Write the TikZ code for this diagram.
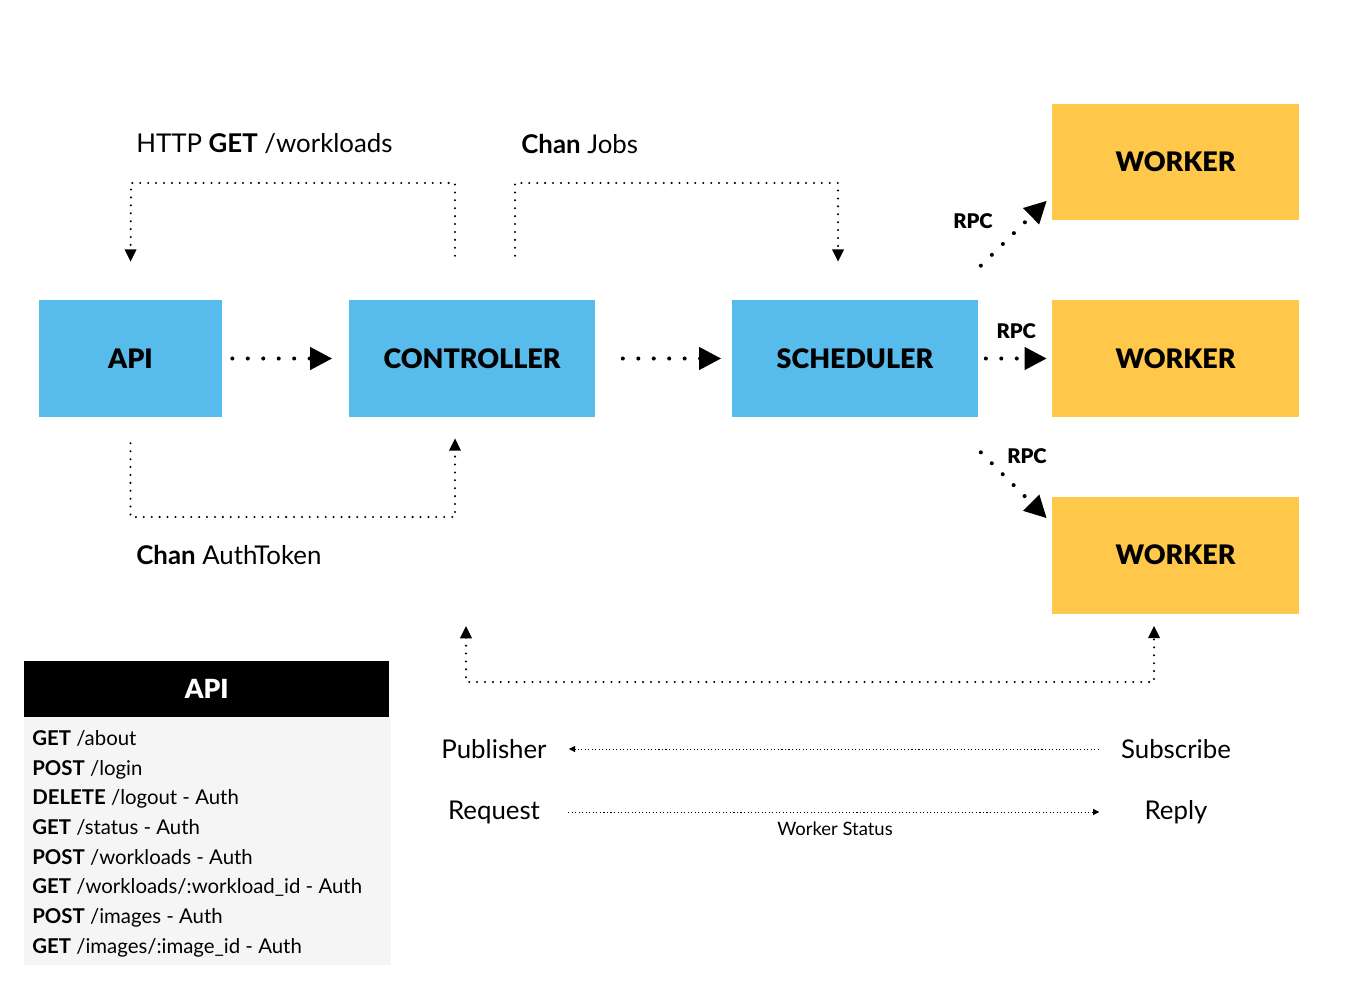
\documentclass[tikz,border=0pt]{standalone}
\usepackage{fontspec}
\setmainfont{Lato}
\newfontfamily\heavyfont{Lato Black}
\usepackage{xcolor}
\usetikzlibrary{arrows.meta,positioning,calc}

\definecolor{svcblue}{HTML}{57BCEC}
\definecolor{wrkyellow}{HTML}{FFC84B}
\definecolor{tblgray}{HTML}{F5F5F5}

\tikzset{
  service/.style={fill=svcblue, minimum width=4.94cm, minimum height=2.34cm, inner sep=0pt, font=\fontsize{15.3}{18}\heavyfont},
  worker/.style={service, fill=wrkyellow},
  bigdots/.style={line width=2.3pt, line cap=round, dash pattern=on 0pt off 8.8pt, -{Triangle[length=12.5pt,width=12.5pt]}},
  loopdots/.style={line width=1.3pt, line cap=round, dash pattern=on 0pt off 4.5pt, -{Triangle[length=7pt,width=6.5pt]}},
  thindots/.style={line width=0.5pt, dash pattern=on 0.6pt off 1.4pt, -{Triangle[length=3.5pt,width=3.5pt]}},
  biglabel/.style={font=\fontsize{14.7}{18}\selectfont, inner sep=0pt},
  rpc/.style={font=\fontsize{11.5}{14}\heavyfont, inner sep=0pt}
}

\begin{document}
\begin{tikzpicture}[x=0.02cm, y=-0.02cm]
\useasboundingbox (0,0) rectangle (1364,1004);

% Services
\node[service, minimum width=3.66cm] (api) at (130.5,358.5) {API};
\node[service] (ctrl) at (472,358.5) {CONTROLLER};
\node[service] (sched) at (855,358.5) {SCHEDULER};

% Workers
\node[worker] (w1) at (1175.5,162) {WORKER};
\node[worker] (w2) at (1175.5,358.5) {WORKER};
\node[worker] (w3) at (1175.5,555) {WORKER};

% Main flow
\draw[bigdots] ([xshift=0.2cm]api.east) -- ([xshift=-0.32cm]ctrl.west);
\draw[bigdots] ([xshift=0.54cm]ctrl.east) -- ([xshift=-0.2cm]sched.west);
\draw[bigdots] ([xshift=0.14cm]sched.east) -- ([xshift=-0.1cm]w2.west) node[rpc, pos=0.5, above=0.35cm] (rpc2) {RPC};
\draw[bigdots] ([xshift=0.04cm,yshift=0.68cm]sched.north east) -- ([xshift=-0.1cm,yshift=0.4cm]w1.south west);
\draw[bigdots] ([xshift=0.04cm,yshift=-0.7cm]sched.south east) -- ([xshift=-0.1cm,yshift=-0.44cm]w3.north west);
\node[rpc] (rpc1) at (973,221) {RPC};
\node[rpc] (rpc3) at (1027,456) {RPC};

% Loops
\draw[loopdots] ([xshift=-0.34cm,yshift=0.88cm]ctrl.north) |- (131,183) -- ([yshift=0.76cm]api.north);
\draw[loopdots] ([xshift=0.86cm,yshift=0.88cm]ctrl.north) |- (838,183) -- ([xshift=-0.34cm,yshift=0.76cm]sched.north);
\draw[loopdots] ([yshift=-0.52cm]api.south) |- (455,517) -- ([xshift=-0.34cm,yshift=-0.42cm]ctrl.south);
\node[biglabel, anchor=west] (httplbl) at (136,144) {HTTP \textbf{GET} /workloads};
\node[biglabel, anchor=west] (jobslbl) at (521,144) {\textbf{Chan} Jobs};
\node[biglabel, anchor=west] (authlbl) at (136,555) {\textbf{Chan} AuthToken};

% Bus
\coordinate (busl) at (466,626);
\draw[loopdots, {Triangle[length=7pt,width=6.5pt]}-{Triangle[length=7pt,width=6.5pt]}] (busl) -- ++(0,56) -| ([xshift=-0.43cm,yshift=-0.24cm]w3.south);

% Patterns
\node[biglabel] (pub) at (494,749) {Publisher};
\node[biglabel] (sub) at (1176,749) {Subscribe};
\node[biglabel] (req) at (494,812) {Request};
\node[biglabel] (rep) at (1176,812) {Reply};
\draw[thindots, shorten <=0.44cm, shorten >=0.44cm] (sub) -- (pub);
\draw[thindots, shorten <=0.56cm, shorten >=0.9cm] (req) -- (rep);
\node[font=\fontsize{10.5}{12}\selectfont] (status) at (835,829) {Worker Status};

% API table
\node[fill=black, text=white, anchor=north west, minimum width=7.3cm, minimum height=1.12cm, font=\fontsize{15}{18}\heavyfont] (tblhead) at (24,661) {API};
\node[fill=tblgray, anchor=north west, minimum width=7.34cm, minimum height=4.96cm] (tblbody) at (24,717) {};
\node[anchor=north west, align=left, inner sep=0pt, font=\fontsize{11.6}{16.9}\selectfont] (routes) at (32,730) {%
\textbf{GET} /about\\
\textbf{POST} /login\\
\textbf{DELETE} /logout - Auth\\
\textbf{GET} /status - Auth\\
\textbf{POST} /workloads - Auth\\
\textbf{GET} /workloads/:workload\_id - Auth\\
\textbf{POST} /images - Auth\\
\textbf{GET} /images/:image\_id - Auth};
\end{tikzpicture}
\end{document}
